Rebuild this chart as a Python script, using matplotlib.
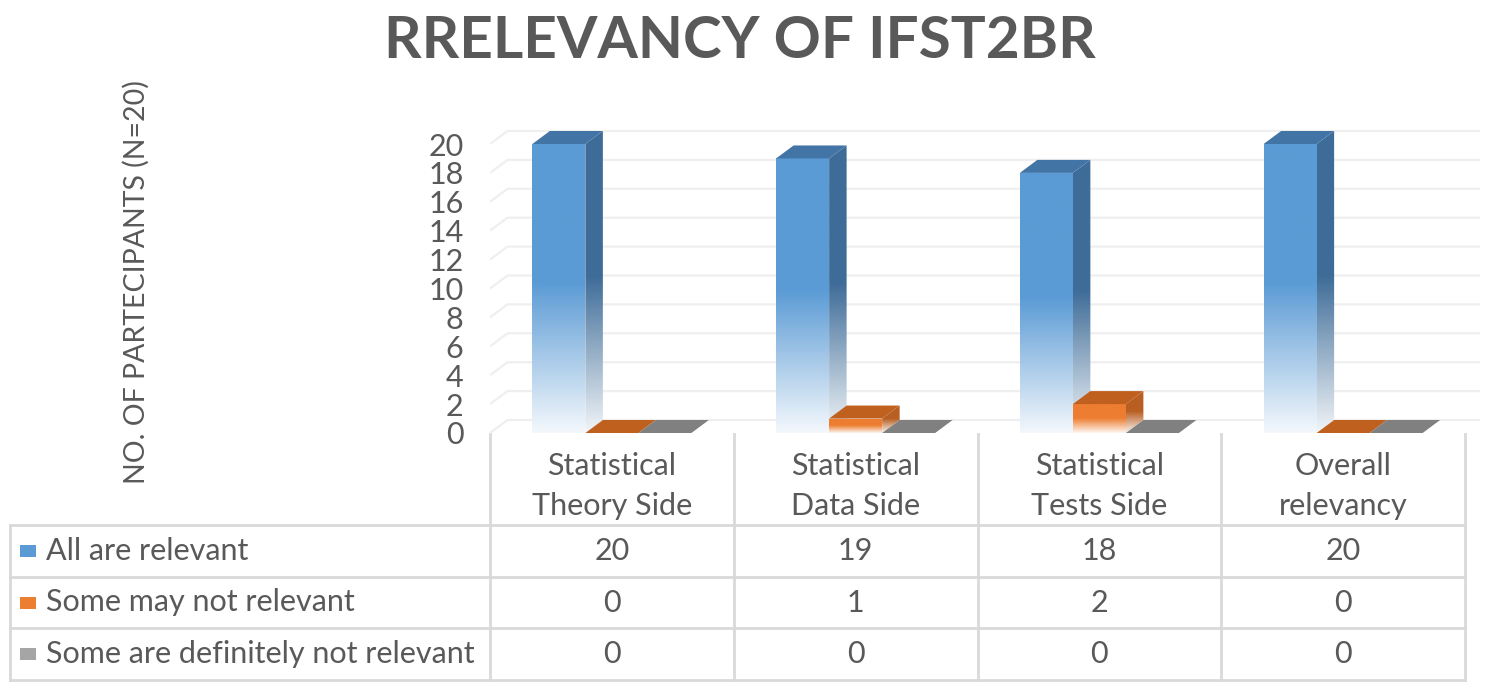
import numpy as np
import matplotlib
matplotlib.use("Agg")
import matplotlib.pyplot as plt
from matplotlib.patches import Polygon, Rectangle
from matplotlib.colors import to_rgb

# ---------------- data ----------------
categories = ["Statistical\nTheory Side", "Statistical\nData Side",
              "Statistical\nTests Side", "Overall\nrelevancy"]
series_names = ["All are relevant", "Some may not relevant",
                "Some are definitely not relevant"]
all_relevant = [20, 19, 18, 20]
some_may_not = [0, 1, 2, 0]
definitely_not = [0, 0, 0, 0]
series_values = [all_relevant, some_may_not, definitely_not]
yticks = list(range(0, 21, 2))
title = "RRELEVANCY OF IFST2BR"
ylabel = "NO. OF PARTECIPANTS (N=20)"

# ---------------- style ----------------
FONT = "Lato"
TXT = "#595959"
front_cols = ["#5b9bd5", "#ed7d31", "#a5a5a5"]
side_cols = ["#3e6c98", "#b85f22", "#7c7c7c"]
top_cols = ["#4274a6", "#c0601f", "#808080"]

W, H = 1500, 691
fig = plt.figure(figsize=(W / 100, H / 100), dpi=100)
fig.patch.set_facecolor("white")

# main axes geometry (pixels)
x_left, x_right = 490, 1480
y_zero, y_top = 433, 120
cat_px = 243.75
unit_px = 14.45
ax = fig.add_axes([x_left / W, (H - y_zero) / H,
                   (x_right - x_left) / W, (y_zero - y_top) / H])
xlim = (-0.5, -0.5 + (x_right - x_left) / cat_px)
ylim = (0, (y_zero - y_top) / unit_px)
for s in ax.spines.values():
    s.set_visible(False)
ax.set_facecolor("none")

dx = 17.5 / cat_px      # depth offset in category units
dy = 13.0 / unit_px     # depth offset in value units
bw = 0.2175             # bar width

# gridlines on back wall with slanted side wall part
for v in yticks:
    ax.plot([xlim[0], xlim[0] + dx, xlim[1]], [v, v + dy, v + dy],
            color="#efefef", lw=1.6, zorder=0, solid_capstyle="butt")


def mix(c, m):
    c = np.array(to_rgb(c))
    return c * m + np.ones(3) * (1 - m)


def grad_face(verts, color, y0, y1, zorder):
    poly = Polygon(verts, closed=True, facecolor="none", edgecolor="none",
                   transform=ax.transData)
    ax.add_patch(poly)
    n = 200
    t = np.linspace(0, 1, n)
    m = np.clip(0.07 + 0.93 * (t / 0.52), 0, 1)
    img = np.array([mix(color, mm) for mm in m]).reshape(n, 1, 3)
    xs = [p[0] for p in verts]
    im = ax.imshow(img, extent=[min(xs), max(xs), y0, y1], origin="lower",
                   aspect="auto", interpolation="bilinear", zorder=zorder)
    im.set_clip_path(poly)


z = 2
for ci in range(len(categories)):
    for si, vals in enumerate(series_values):
        v = vals[ci]
        x0 = ci + (si - 1) * bw - bw / 2
        x1 = x0 + bw
        if v > 0:
            grad_face([(x0, 0), (x1, 0), (x1, v), (x0, v)], front_cols[si], 0, v, z)
            grad_face([(x1, 0), (x1 + dx, dy), (x1 + dx, v + dy), (x1, v)],
                      side_cols[si], 0, v + dy, z)
        ax.add_patch(Polygon([(x0, v), (x1, v), (x1 + dx, v + dy), (x0 + dx, v + dy)],
                             closed=True, facecolor=top_cols[si], edgecolor="none",
                             zorder=z + 0.5))
        z += 1

ax.set_xlim(*xlim)
ax.set_ylim(*ylim)
ax.set_xticks([])
ax.set_yticks(yticks)
ax.set_yticklabels([str(t) for t in yticks], fontsize=22, color=TXT, family=FONT)
ax.tick_params(axis="y", length=0, pad=19)

# ---------------- overlay axes for table / titles (pixel coords) ----------------
ov = fig.add_axes([0, 0, 1, 1])
ov.set_xlim(0, W)
ov.set_ylim(H, 0)
ov.axis("off")
ov.set_facecolor("none")
ov.set_zorder(-1)


def cat_px_x(x):
    return ax.transData.transform((x, 0))[0]


col_edges = [cat_px_x(i - 0.5) for i in range(len(categories) + 1)]
table_left = 10
row_lines = [525, 577, 628, 680]
header_top = 434
GRID = "#d9d9d9"
lw = 2.0
FS = 22

for xe in col_edges:
    ov.plot([xe, xe], [header_top, row_lines[-1]], color=GRID, lw=lw)
ov.plot([table_left, table_left], [row_lines[0], row_lines[-1]], color=GRID, lw=lw)
for yl in row_lines:
    ov.plot([table_left, col_edges[-1]], [yl, yl], color=GRID, lw=lw)

for i, cat in enumerate(categories):
    cx = (col_edges[i] + col_edges[i + 1]) / 2
    ov.text(cx, 486, cat, ha="center", va="center",
            fontsize=FS, color=TXT, family=FONT, linespacing=1.52)

for si, name in enumerate(series_names):
    yc = (row_lines[si] + row_lines[si + 1]) / 2
    ov.add_patch(Rectangle((20, yc - 6), 16, 12, facecolor=front_cols[si],
                           edgecolor="none"))
    ov.text(46, yc, name, ha="left", va="center", fontsize=FS, color=TXT, family=FONT)
    for ci in range(len(categories)):
        cx = (col_edges[ci] + col_edges[ci + 1]) / 2
        ov.text(cx, yc, str(series_values[si][ci]), ha="center", va="center",
                fontsize=FS, color=TXT, family=FONT)

ov.text(740, 41, title, ha="center", va="center", fontsize=42, fontweight="bold",
        color=TXT, family=FONT)
ov.text(136, 282, ylabel, ha="center", va="center", rotation=90, fontsize=20.5,
        color=TXT, family=FONT)

fig.savefig("out.png", dpi=100, facecolor="white")
